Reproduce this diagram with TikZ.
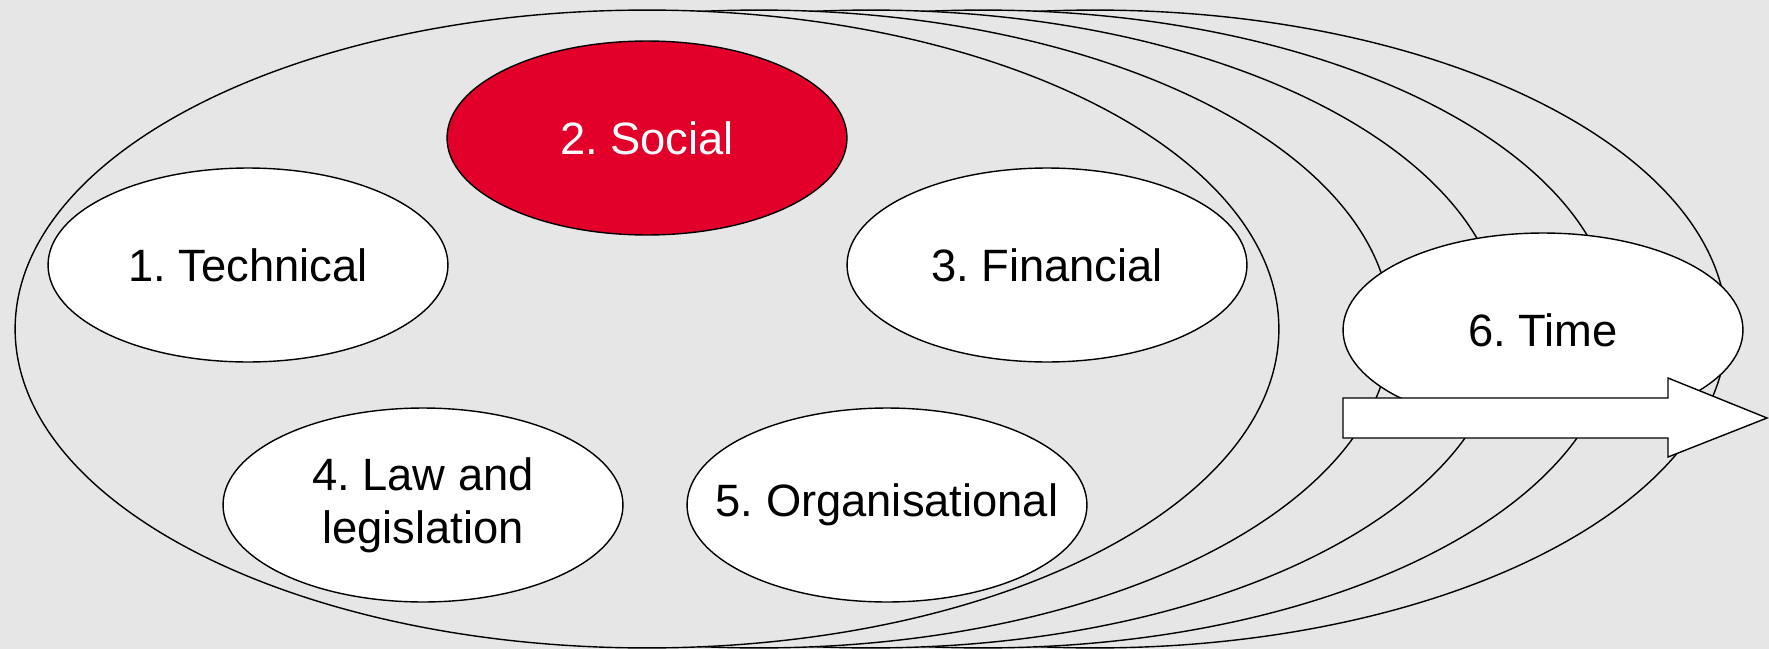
\documentclass[tikz,border=0pt]{standalone}
\usepackage{fontspec}
\setmainfont{Liberation Sans}
\usetikzlibrary{shapes.geometric}
\definecolor{bg}{RGB}{230,230,230}
\definecolor{socialred}{RGB}{226,0,43}
\frenchspacing
\begin{document}
\begin{tikzpicture}[x=0.02cm,y=-0.02cm, line width=0.8pt,
 layer/.style={ellipse, draw=black, fill=bg, minimum width=25.28cm, minimum height=12.76cm, inner sep=0pt},
 aspect/.style={ellipse, draw=black, fill=white, minimum width=8cm, minimum height=3.88cm, inner sep=0pt},
 aspecttext/.style={align=center, inner sep=0pt, font=\fontsize{25.8}{30}\selectfont},
 timearrow/.style={draw=black, fill=white, line join=miter}
]
\fill[bg] (0,0) rectangle (1769,649);
\useasboundingbox (0,0) rectangle (1769,649);
\node[layer] (l5) at (1095,329) {};
\node[layer] (l4) at (983,329) {};
\node[layer] (l3) at (871,329) {};
\node[layer] (l2) at (759,329) {};
\node[layer] (l1) at (647,329) {};
\node[aspect] (tech) at (248,265) {};
\node[aspecttext] (techt) at (tech.center) {1. Technical};
\node[aspect, fill=socialred] (soc) at (647,138) {};
\node[aspecttext, text=white] (soct) at (soc.center) {2. Social};
\node[aspect] (fin) at (1047,265) {};
\node[aspecttext] (fint) at (fin.center) {3. Financial};
\node[aspect] (law) at (423,505) {};
\node[aspecttext] (lawt) at (law.center) {4. Law and\\legislation};
\node[aspect] (org) at (887,505) {};
\node[aspecttext] (orgt) at (org.center) {5. Organisational};
\node[aspect] (time) at (1543,330) {};
\node[aspecttext] (timet) at (time.center) {6. Time};
\draw[timearrow] (1343,398) -- (1668,398) -- (1668,378) -- (1767,418) -- (1668,457) -- (1668,438) -- (1343,438) -- cycle;
\end{tikzpicture}
\end{document}
